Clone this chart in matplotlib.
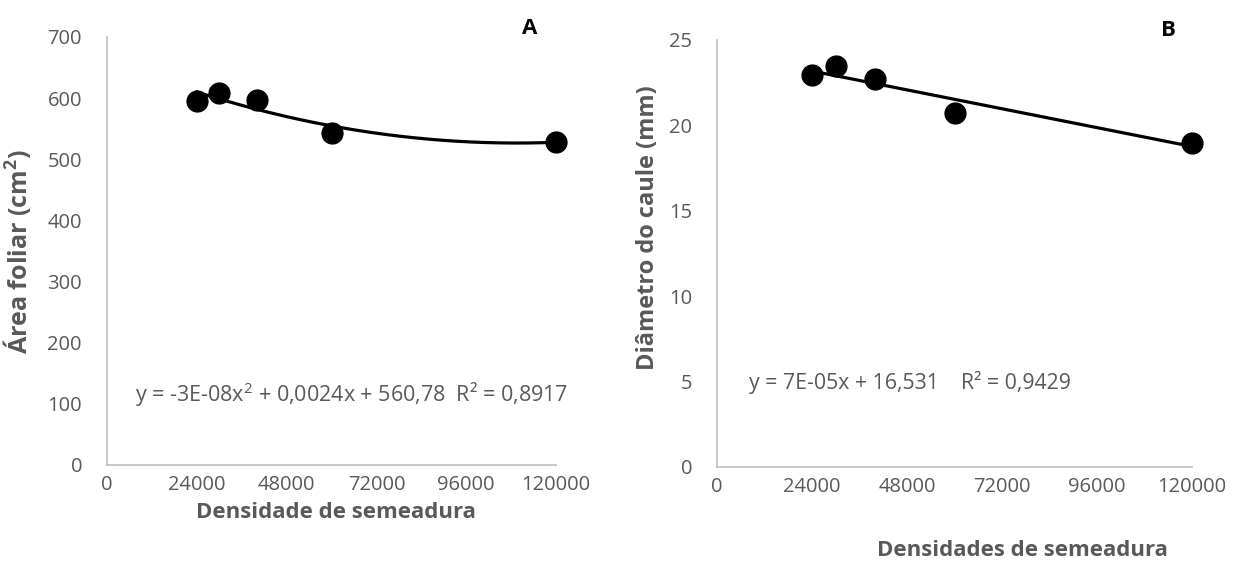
import numpy as np
import matplotlib
matplotlib.use("Agg")
import matplotlib.pyplot as plt

plt.rcParams['font.family'] = ['Open Sans', 'DejaVu Sans']
plt.rcParams['mathtext.fontset'] = 'custom'
plt.rcParams['mathtext.rm'] = 'Open Sans'
plt.rcParams['mathtext.bf'] = 'Open Sans:bold'

# Data
densidade = [24000, 30000, 40000, 60000, 120000]
area_foliar = [595, 609, 597, 543, 529]
diametro = [22.95, 23.45, 22.7, 20.75, 18.98]

x_ticks = [0, 24000, 48000, 72000, 96000, 120000]
yA_ticks = [0, 100, 200, 300, 400, 500, 600, 700]
yB_ticks = [0, 5, 10, 15, 20, 25]

eqA = "y = -3E-08x$^{2}$ + 0,0024x + 560,78  R² = 0,8917"
eqB = "y = 7E-05x + 16,531    R² = 0,9429"

W, H = 1237, 565
fig = plt.figure(figsize=(W / 100, H / 100), dpi=100)

gray = '#595959'
spine_c = '#BFBFBF'

def px(x, y):
    return x / W, 1 - y / H

def style(ax, yticks):
    for s in ['top', 'right']:
        ax.spines[s].set_visible(False)
    for s in ['left', 'bottom']:
        ax.spines[s].set_color(spine_c)
        ax.spines[s].set_linewidth(1.2)
    ax.set_xlim(0, 120000)
    ax.set_xticks(x_ticks)
    ax.set_xticklabels([str(t) for t in x_ticks])
    ax.set_yticks(yticks)
    ax.set_ylim(yticks[0], yticks[-1])
    ax.tick_params(length=0, labelsize=14.5, colors=gray)
    ax.tick_params(axis='y', pad=18)
    ax.tick_params(axis='x', pad=7.5)

# Panel A
axA = fig.add_axes([107 / W, 1 - 465 / H, (556 - 107) / W, (465 - 37) / H])
style(axA, yA_ticks)
axA.plot(densidade, area_foliar, 'o', color='black', markersize=15, clip_on=False, zorder=3)
cA = np.polyfit(densidade, area_foliar, 2)
xs = np.linspace(min(densidade), max(densidade), 200)
axA.plot(xs, np.polyval(cA, xs), color='black', lw=2.3)

# Panel B
axB = fig.add_axes([717 / W, 1 - 467 / H, (1192 - 717) / W, (467 - 40) / H])
style(axB, yB_ticks)
axB.plot(densidade, diametro, 'o', color='black', markersize=15, clip_on=False, zorder=3)
cB = np.polyfit(densidade, diametro, 1)
axB.plot(xs, np.polyval(cB, xs), color='black', lw=2.3)

# Texts
fig.text(*px(135, 395), eqA, fontsize=15.5, color=gray, va='center', ha='left')
fig.text(*px(749, 383), eqB, fontsize=15.3, color=gray, va='center', ha='left')
fig.text(*px(336, 512), "Densidade de semeadura", fontsize=16, fontweight='bold',
         color=gray, ha='center', va='center')
fig.text(*px(1022, 550), "Densidades de semeadura", fontsize=16, fontweight='bold',
         color=gray, ha='center', va='center')
fig.text(*px(17, 252), "Área foliar (cm$\\mathbf{^{2}}$)", fontsize=18, fontweight='bold',
         color=gray, ha='center', va='center', rotation=90)
fig.text(*px(648, 228), "Diâmetro do caule (mm)", fontsize=17, fontweight='bold',
         color=gray, ha='center', va='center', rotation=90)
fig.text(*px(530, 28), "A", fontsize=16, fontweight='bold', color='black',
         ha='center', va='center')
fig.text(*px(1168, 30), "B", fontsize=16, fontweight='bold', color='black',
         ha='center', va='center')

fig.savefig("out.png", dpi=100)
